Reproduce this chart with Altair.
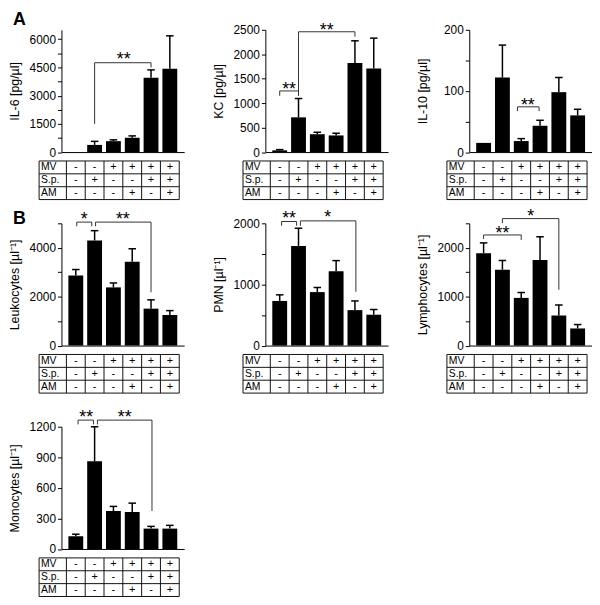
import altair as alt
import pandas as pd

FONT = "Liberation Sans"

# ---------------- data ----------------
groups = [1, 2, 3, 4, 5, 6]
row_labels = ["MV", "S.p.", "AM"]
mv = ["-", "-", "+", "+", "+", "+"]
sp = ["-", "+", "-", "-", "+", "+"]
am = ["-", "-", "-", "+", "-", "+"]

il6_mean = [0, 380, 580, 760, 3950, 4430]
il6_err = [0, 570, 650, 860, 4370, 6180]
kc_mean = [35, 710, 365, 340, 1820, 1710]
kc_err = [50, 1095, 405, 385, 2275, 2330]
il10_mean = [15, 122, 18, 43, 98, 60]
il10_err = [15, 175, 22, 52, 122, 70]
leuk_mean = [2870, 4300, 2380, 3430, 1510, 1250]
leuk_err = [3110, 4700, 2560, 3960, 1870, 1430]
pmn_mean = [730, 1630, 875, 1215, 580, 505]
pmn_err = [830, 1920, 950, 1390, 730, 590]
lymph_mean = [1890, 1550, 975, 1750, 615, 350]
lymph_err = [2100, 1740, 1085, 2225, 830, 430]
mono_mean = [125, 860, 373, 363, 200, 200]
mono_err = [145, 1200, 418, 450, 222, 232]

il6_ticks = [0, 750, 1500, 2250, 3000, 3750, 4500, 5250, 6000]
kc_ticks = [0, 500, 1000, 1500, 2000, 2500]
il10_ticks = [0, 50, 100, 150, 200]
leuk_ticks = [0, 1000, 2000, 3000, 4000, 5000]
pmn_ticks = [0, 500, 1000, 1500, 2000]
lymph_ticks = [0, 500, 1000, 1500, 2000, 2500]
mono_ticks = [0, 300, 600, 900, 1200]

# significance brackets: (x left, x right, top, left leg end, right leg end, label, label x, label y)
il6_br = [(2, 5, 4750, 1500, 4500, "**", 3.55, 5150)]
kc_br = [(1, 2, 1250, 1150, 1150, "**", 1.5, 1365),
         (2, 5, 2460, 1150, 2360, "**", 3.5, 2570)]
il10_br = [(2.8, 3.95, 74, 67, 67, "**", 3.35, 84)]
leuk_br = [(1.05, 1.85, 5050, 4880, 4880, "*", 1.45, 5350),
           (2.05, 5.0, 5050, 4880, 2180, "**", 3.5, 5350)]
pmn_br = [(1.1, 1.9, 2030, 1960, 1960, "**", 1.5, 2150),
          (2.1, 5.05, 2040, 1960, 880, "*", 3.55, 2160)]
lymph_br = [(1.0, 3.0, 2262, 2180, 2160, "**", 2.0, 2385),
            (2.0, 5.0, 2597, 2503, 1141, "*", 3.5, 2730)]
mono_br = [(1.12, 1.94, 1265, 1223, 1223, "**", 1.55, 1336),
           (2.15, 5.05, 1265, 1223, 373, "**", 3.6, 1336)]

# ---------------- layout ----------------
W = 124
HB = 123.5
GAP = 9
TH = 39
LABEL_COL = 30 / (W / 6)
LINE = "#333333"
TLINE = "#111111"


def panel(title, mean, err, ymax, ticks, step, brackets, extra=0, letter=None, letter_y=-5):
    xscale = alt.Scale(domain=[0.5, 6.5], nice=False, zero=False)
    xaxis = alt.Axis(title=None, labels=False, ticks=False, grid=False,
                     domainColor="black", domainWidth=1,
                     offset=-(GAP + TH + extra))
    yscale = alt.Scale(domain=[0, ymax], range=[HB, 0], nice=False, zero=False)
    yaxis = alt.Axis(title=title, values=ticks, format="d",
                     labelExpr=f"datum.value % {step} === 0 ? datum.label : ''",
                     labelOverlap=False, grid=False,
                     tickSize=4, tickColor="black", tickWidth=1,
                     domainColor="black", domainWidth=1,
                     labelFont=FONT, labelFontSize=12, labelColor="black", labelPadding=2,
                     titleFont=FONT, titleFontSize=12.5, titleFontWeight="normal",
                     titleColor="black", titleX=-40)

    def X(f):
        return alt.X(f"{f}:Q", scale=xscale, axis=xaxis)

    def Y(f):
        return alt.Y(f"{f}:Q", scale=yscale, axis=yaxis)

    df = pd.DataFrame({"g": groups, "m": mean, "e": err})
    bars = alt.Chart(df).mark_bar(color="black", size=15).encode(x=X("g"), y=Y("m"))
    edf = df[df.e > df.m]
    eline = alt.Chart(edf).mark_rule(color="black", strokeWidth=1.5).encode(
        x=X("g"), y=Y("m"), y2="e:Q")
    cap = alt.Chart(edf).transform_calculate(
        a="datum.g - 0.2", b="datum.g + 0.2"
    ).mark_rule(color="black", strokeWidth=1.5).encode(x=X("a"), x2="b:Q", y=Y("e"))

    segs, labs = [], []
    for (xl, xr, yt, yl, yr, lab, lx, ly) in brackets:
        segs.append(dict(xa=xl, xb=xr, ya=yt, yb=yt))
        segs.append(dict(xa=xl, xb=xl, ya=yt, yb=yl))
        segs.append(dict(xa=xr, xb=xr, ya=yt, yb=yr))
        labs.append(dict(lx=lx, ly=ly, t=lab))
    brk = alt.Chart(pd.DataFrame(segs)).mark_rule(color=LINE, strokeWidth=1).encode(
        x=X("xa"), x2="xb:Q", y=Y("ya"), y2="yb:Q")
    stars = alt.Chart(pd.DataFrame(labs)).mark_text(
        font=FONT, fontSize=18, color="black", baseline="middle", align="center", dy=5
    ).encode(x=X("lx"), y=Y("ly"), text="t:N")

    top_layers = [bars, eline, cap, brk, stars]
    if letter:
        top_layers.append(
            alt.Chart(pd.DataFrame({"t": [letter]})).mark_text(
                font=FONT, fontSize=18, fontWeight="bold", align="left",
                baseline="alphabetic", color="black"
            ).encode(x=alt.value(-49), y=alt.value(letter_y), text="t:N"))
    top = alt.layer(*top_layers)

    # ---- table ----
    tscale = alt.Scale(domain=[0, 3], range=[HB + GAP, HB + GAP + TH], nice=False, zero=False)

    def T(f):
        return alt.Y(f"{f}:Q", scale=tscale, axis=None)

    left = groups[0] - 0.5 - LABEL_COL
    right = groups[-1] + 0.5
    nrow = len(row_labels)
    hl = pd.DataFrame({"y": list(range(nrow + 1)), "xa": left, "xb": right})
    vl = pd.DataFrame({"x": [left] + [g - 0.5 for g in groups] + [right], "ya": 0, "yb": nrow})
    cells = []
    for r, vals in enumerate([mv, sp, am]):
        for g, v in zip(groups, vals):
            cells.append(dict(x=g, y=r + 0.5, t=v))
    lab_df = pd.DataFrame({"x": left + 0.1, "y": [r + 0.5 for r in range(nrow)], "t": row_labels})

    hlines = alt.Chart(hl).mark_rule(color=TLINE, strokeWidth=1).encode(x=X("xa"), x2="xb:Q", y=T("y"))
    vlines = alt.Chart(vl).mark_rule(color=TLINE, strokeWidth=1).encode(x=X("x"), y=T("ya"), y2="yb:Q")
    ctext = alt.Chart(pd.DataFrame(cells)).mark_text(
        font=FONT, fontSize=11, color="black", baseline="middle", align="center"
    ).encode(x=X("x"), y=T("y"), text="t:N")
    ltext = alt.Chart(lab_df).mark_text(
        font=FONT, fontSize=10.5, color="black", baseline="middle", align="left"
    ).encode(x=X("x"), y=T("y"), text="t:N")
    table = alt.layer(hlines, vlines, ltext, ctext)

    return alt.layer(top, table).resolve_scale(y="independent").properties(
        width=W, height=HB + GAP + TH + extra)


panels = [
    panel("IL-6 [pg/µl]", il6_mean, il6_err, 6500, il6_ticks, 1500, il6_br, letter="A", letter_y=-5),
    panel("KC [pg/µl]", kc_mean, kc_err, 2500, kc_ticks, 500, kc_br),
    panel("IL-10 [pg/µl]", il10_mean, il10_err, 200, il10_ticks, 100, il10_br),
    panel("Leukocytes [µl⁻¹]", leuk_mean, leuk_err, 5000, leuk_ticks, 2000, leuk_br, extra=10,
          letter="B", letter_y=1),
    panel("PMN [µl⁻¹]", pmn_mean, pmn_err, 2000, pmn_ticks, 1000, pmn_br, extra=10),
    panel("Lymphocytes [µl⁻¹]", lymph_mean, lymph_err, 2500, lymph_ticks, 1000, lymph_br, extra=10),
    panel("Monocytes [µl⁻¹]", mono_mean, mono_err, 1200, mono_ticks, 300, mono_br),
]

chart = alt.concat(
    *panels, columns=3, spacing={"row": 23.5, "column": 82}, bounds="flush", align="each"
).properties(
    padding={"left": 0, "top": 0, "right": 0, "bottom": 0}, background="white"
).configure_view(stroke=None)

chart.save("out.html", embed_options={"renderer": "svg", "actions": False})
